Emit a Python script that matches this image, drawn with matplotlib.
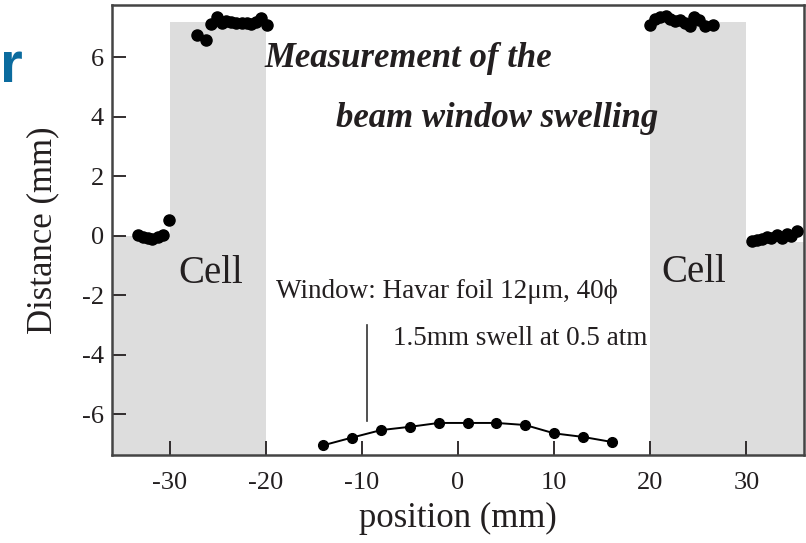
import matplotlib
matplotlib.use("Agg")
import matplotlib.pyplot as plt
import numpy as np

# cell (grey) regions: left edge, width, top
cell_left = [-36, -30, 20, 30]
cell_width = [6, 10, 10, 6]
cell_top = [0.0, 7.2, 7.2, -0.22]

# left side, outside the cell
left_low_x = [-33.3, -32.8, -32.3, -31.8, -31.2, -30.7, -30.1]
left_low_y = [0.02, -0.03, -0.08, -0.1, -0.05, 0.03, 0.53]

# left side, on the cell
left_high_x = [-27.15, -26.2, -25.7, -25.1, -24.6, -24.1, -23.6, -23.05, -22.5,
               -22.0, -21.5, -21.0, -20.45, -19.9]
left_high_y = [6.76, 6.59, 7.13, 7.37, 7.15, 7.24, 7.21, 7.15, 7.17,
               7.15, 7.13, 7.21, 7.32, 7.09]

# right side, on the cell
right_high_x = [20.0, 20.5, 21.0, 21.6, 22.1, 22.6, 23.1, 23.6, 24.1, 24.6,
                25.1, 25.7, 26.5]
right_high_y = [7.1, 7.3, 7.35, 7.4, 7.29, 7.24, 7.26, 7.15, 7.06, 7.37,
                7.26, 7.06, 7.09]

# right side, outside the cell
right_low_x = [30.6, 31.1, 31.6, 32.1, 32.6, 33.2, 33.7, 34.2, 34.7, 35.3]
right_low_y = [-0.17, -0.15, -0.1, -0.03, -0.08, 0.02, -0.06, 0.05, 0.0, 0.16]

# the window itself
window_x = [-14, -11, -8, -5, -2, 1, 4, 7, 10, 13, 16]
window_y = [-7.05, -6.79, -6.54, -6.43, -6.3, -6.3, -6.3, -6.37, -6.65, -6.77, -6.94]

plt.rcParams['font.family'] = ['Liberation Serif', 'DejaVu Serif']
plt.rcParams['axes.unicode_minus'] = False

fig = plt.figure(figsize=(8.06, 5.43), dpi=100)
ax = fig.add_axes([0.139, 0.162, 0.8585, 0.829])

ymin, ymax = -7.38, 7.77
ax.bar(cell_left, np.array(cell_top) - ymin, width=cell_width, bottom=ymin,
       align='edge', color='#dddddd', linewidth=0, zorder=0)

dot = dict(marker='o', color='black', markersize=8, linestyle='none', zorder=3)
ax.plot(left_low_x, left_low_y, **dot)
ax.plot(left_high_x, left_high_y, **dot)
ax.plot(right_high_x, right_high_y, **dot)
ax.plot(right_low_x, right_low_y, **dot)
ax.plot(window_x, window_y, '-o', color='black', markersize=7, linewidth=1.4, zorder=3)

# pointer line for the swell
ax.plot([-9.5, -9.5], [-3.0, -6.25], color='#333333', linewidth=1.2)

txt = '#231f20'
ax.text(-29.1, -1.58, 'Cell', fontsize=28, color=txt)
ax.text(21.2, -1.55, 'Cell', fontsize=28, color=txt)
ax.text(-18.9, -2.1, 'Window: Havar foil 12\u03bcm, 40\u03d5', fontsize=19.5, color=txt)
ax.text(-6.8, -3.68, '1.5mm swell at 0.5 atm', fontsize=19.5, color=txt)
ax.text(-20.1, 5.69, 'Measurement of the', fontsize=25, color=txt,
        fontweight='bold', fontstyle='italic')
ax.text(-12.7, 3.67, 'beam window swelling', fontsize=25, color=txt,
        fontweight='bold', fontstyle='italic')

ax.set_xlim(-36, 36)
ax.set_ylim(ymin, ymax)
ax.set_xticks([-30, -20, -10, 0, 10, 20, 30])
ax.set_yticks([-6, -4, -2, 0, 2, 4, 6])
ax.tick_params(direction='in', length=10, width=1.3, labelsize=19, colors='#231f20')
ax.tick_params(axis='x', pad=12)
ax.tick_params(axis='y', pad=6)
for s in ax.spines.values():
    s.set_linewidth(1.8)
    s.set_color('#444444')

ax.set_xlabel('position (mm)', fontsize=25, color=txt, labelpad=6)
ax.set_ylabel('Distance (mm)', fontsize=25, color=txt, labelpad=16)

# leftover letter of the slide title, cut by the frame
fig.text(0.0, 0.849, 'r', fontsize=42, fontweight='bold', color='#0b6b9e',
         family='Liberation Sans')

fig.savefig('out.png', dpi=100)
